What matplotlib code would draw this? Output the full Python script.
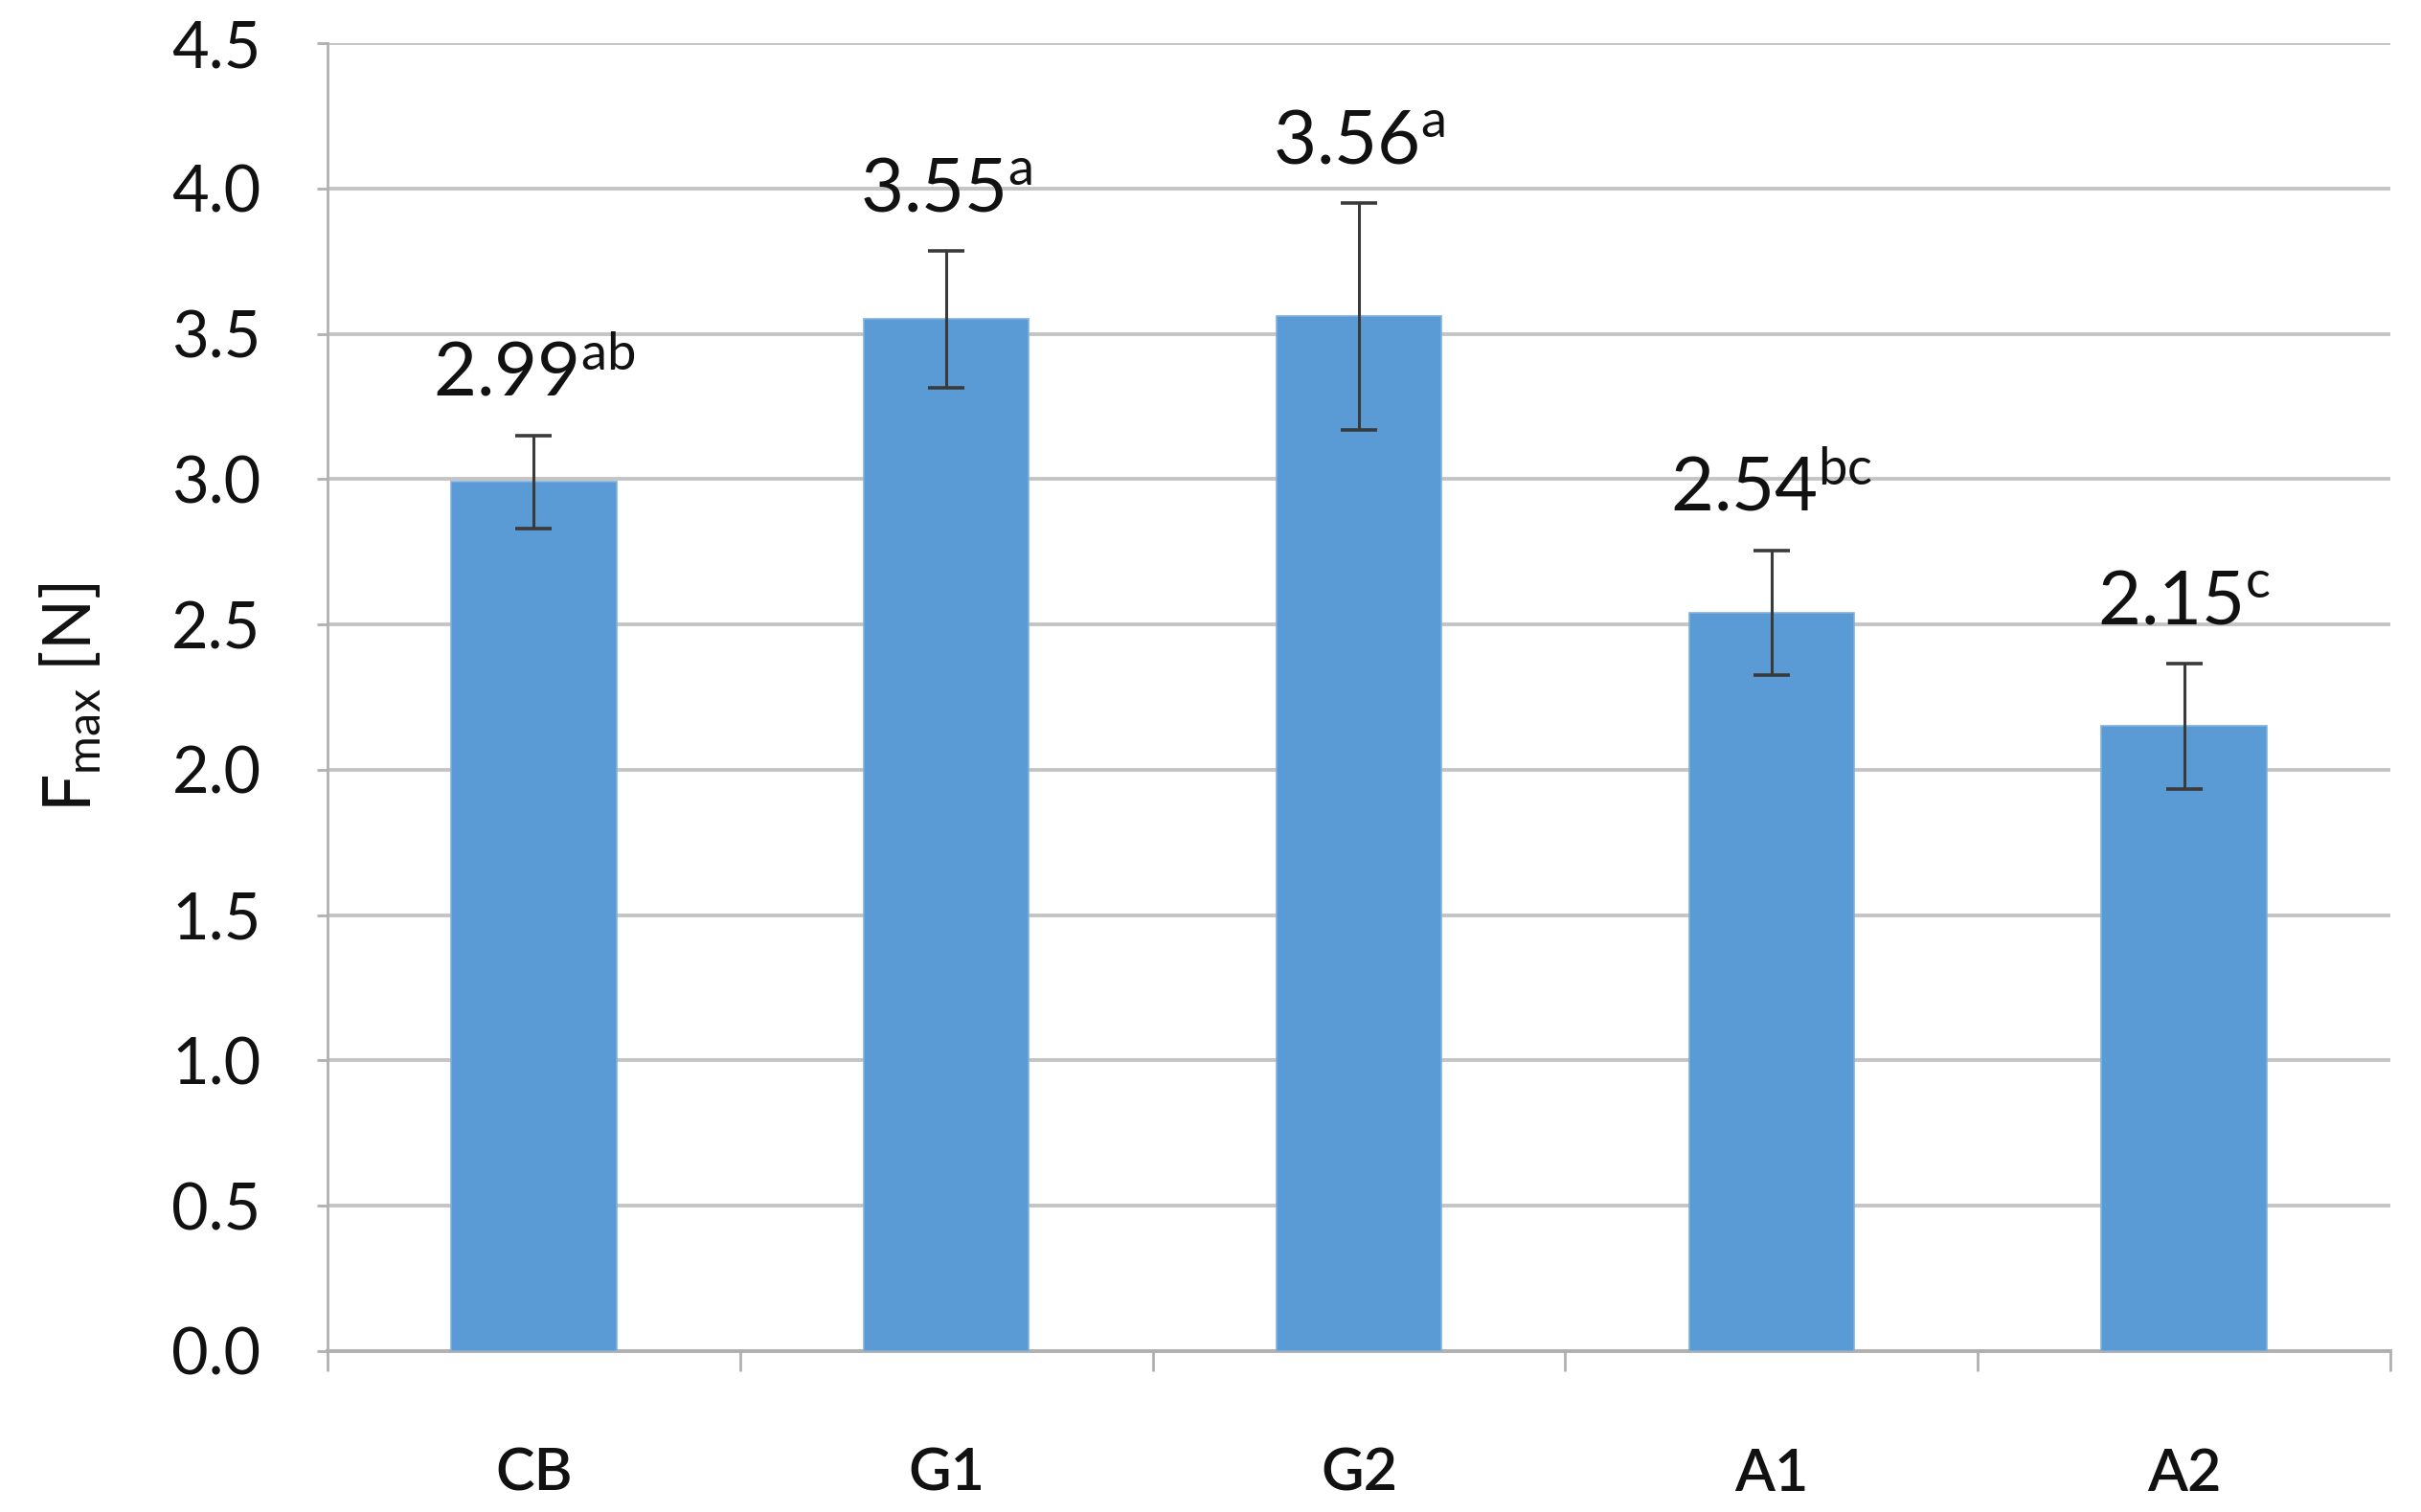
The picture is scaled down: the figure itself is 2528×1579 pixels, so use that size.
import numpy as np
import matplotlib.pyplot as plt
from matplotlib.ticker import FixedLocator

plt.rcParams['font.family'] = ['Lato', 'DejaVu Sans']
plt.rcParams['mathtext.fontset'] = 'custom'
plt.rcParams['mathtext.rm'] = 'Lato'
plt.rcParams['mathtext.it'] = 'Lato:italic'

# data
groups = ['CB', 'G1', 'G2', 'A1', 'A2']
fmax = [2.99, 3.55, 3.56, 2.54, 2.15]
err = [0.16, 0.235, 0.39, 0.215, 0.215]
letters = ['ab', 'a', 'a', 'bc', 'c']

dpi = 200
fig = plt.figure(figsize=(2528 / dpi, 1579 / dpi), dpi=dpi)
ax = fig.add_axes([0.1353, 0.1064, 0.8520, 0.8651])

x = np.arange(len(groups))
ax.bar(x, fmax, width=0.4, color='#5B9BD5', edgecolor='#7DB0DF',
       linewidth=0.6, zorder=3)
ax.errorbar(x, fmax, yerr=err, fmt='none', ecolor='#3A3A3A',
            elinewidth=1.1, capsize=7, capthick=1.3, zorder=4)

# value labels with significance letters
for xi, v, e, s in zip(x, fmax, err, letters):
    ax.text(xi, v + e + 0.09, r'$\mathregular{%.2f^{%s}}$' % (v, s),
            ha='center', va='bottom', fontsize=28, color='#111111', zorder=5)

ax.set_xlim(-0.5, len(groups) - 0.5)
ax.set_ylim(0, 4.5)
ax.set_yticks(np.arange(0, 4.51, 0.5))
ax.set_yticklabels(['%.1f' % t for t in np.arange(0, 4.51, 0.5)])
ax.yaxis.grid(True, color='#C4C4C4', linewidth=1.4, zorder=0)
ax.set_axisbelow(True)

ax.set_xticks(x)
ax.set_xticklabels(groups, fontweight='semibold')
ax.xaxis.set_minor_locator(FixedLocator(np.arange(-0.5, len(groups), 1.0)))
ax.tick_params(axis='x', which='major', length=0, pad=36, labelsize=22,
               labelcolor='#111111')
ax.tick_params(axis='x', which='minor', length=7.5, width=1.0, color='#B0B0B0')
ax.tick_params(axis='y', length=4, width=1.0, color='#B0B0B0', pad=21,
               labelsize=24, labelcolor='#111111')

for side in ['top', 'right']:
    ax.spines[side].set_visible(False)
ax.spines['left'].set_color('#B0B0B0')
ax.spines['left'].set_linewidth(1.0)
ax.spines['bottom'].set_color('#B0B0B0')
ax.spines['bottom'].set_linewidth(1.4)

ax.set_ylabel(r'$\mathregular{F_{max}}$ [N]', fontsize=25, color='#111111',
              labelpad=26)

fig.savefig('out.png', dpi=dpi, facecolor='white')
